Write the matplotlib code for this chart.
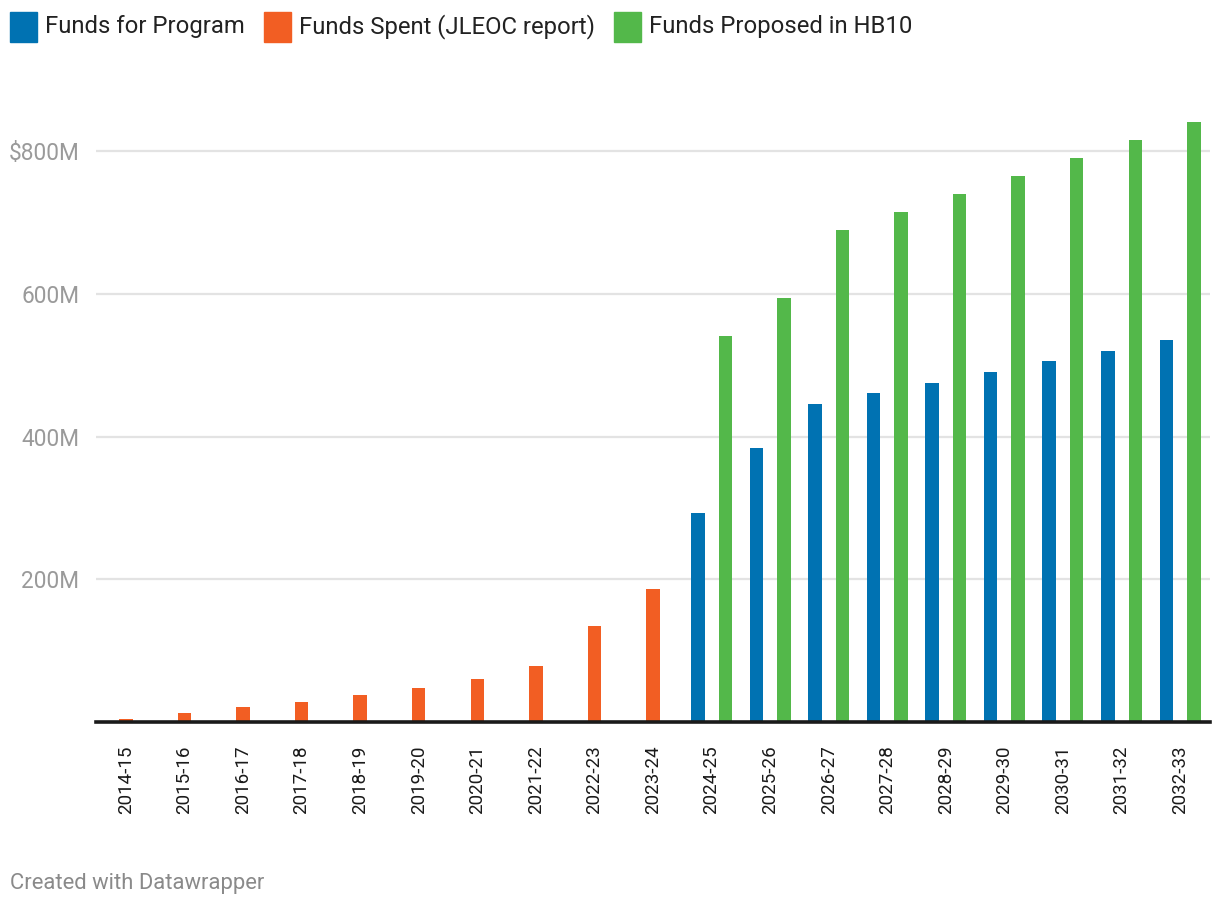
import numpy as np
import matplotlib
matplotlib.use("Agg")
import matplotlib.pyplot as plt
from matplotlib.patches import Rectangle

plt.rcParams['font.family'] = ['Roboto', 'DejaVu Sans']

# Data (millions of dollars)
categories = ['2014-15', '2015-16', '2016-17', '2017-18', '2018-19', '2019-20',
              '2020-21', '2021-22', '2022-23', '2023-24', '2024-25', '2025-26',
              '2026-27', '2027-28', '2028-29', '2029-30', '2030-31', '2031-32',
              '2032-33']
funds_spent = [3.8, 12.2, 20.7, 27.8, 37.6, 47.5, 60.2, 78.6, 135, 186,
               np.nan, np.nan, np.nan, np.nan, np.nan, np.nan, np.nan, np.nan, np.nan]
funds_program = [np.nan] * 10 + [293, 384, 446, 461, 475, 490, 506, 520, 535]
funds_proposed = [np.nan] * 10 + [541, 594, 689, 715, 740, 765, 790, 816, 841]

series_names = ['Funds for Program', 'Funds Spent (JLEOC report)', 'Funds Proposed in HB10']
colors = ['#0072b2', '#f25e23', '#53b84a']

fig = plt.figure(figsize=(12.2, 9.06), dpi=100)
W, H = 1220, 906
ax = fig.add_axes([96 / W, (H - 722) / H, (1210 - 96) / W, (722 - 100) / H])

x = np.arange(len(categories))
bw = 0.23
off = 0.235

spent = np.array(funds_spent, dtype=float)
prog = np.array(funds_program, dtype=float)
prop = np.array(funds_proposed, dtype=float)

m = ~np.isnan(spent)
ax.bar(x[m], spent[m], width=bw, color=colors[1], zorder=3)
m = ~np.isnan(prog)
ax.bar(x[m] - off, prog[m], width=bw, color=colors[0], zorder=3)
m = ~np.isnan(prop)
ax.bar(x[m] + off, prop[m], width=bw, color=colors[2], zorder=3)

ax.set_xlim(-0.51, len(categories) - 0.49)
ax.set_ylim(0, (722 - 100) / 142.7 * 200)

ax.set_yticks([200, 400, 600, 800])
ax.set_yticklabels(['200M', '400M', '600M', '$800M'])
ax.tick_params(axis='y', length=0, pad=12, labelsize=16.3, labelcolor='#9a9a9a')
ax.grid(axis='y', color='#e3e3e3', linewidth=1.6, zorder=0)

ax.set_xticks(x)
ax.set_xticklabels(categories, rotation=90, va='top', ha='center')
ax.tick_params(axis='x', length=0, pad=17, labelsize=13.5, labelcolor='#1a1a1a')

for s in ax.spines.values():
    s.set_visible(False)
ax.axhline(0, color='#1a1a1a', linewidth=2.6, zorder=4, clip_on=False)

# legend row
leg_x = [10, 264, 614]
for lx, name, c in zip(leg_x, series_names, colors):
    fig.patches.append(Rectangle((lx / W, (H - 42) / H), 27 / W, 30 / H,
                                 transform=fig.transFigure, color=c))
    fig.text((lx + 35) / W, (H - 27) / H, name, fontsize=17.2, color='#222222',
             va='center', ha='left')

fig.text(10 / W, (H - 883) / H, 'Created with Datawrapper', fontsize=15.8,
         color='#8a8a8a', va='center', ha='left')

fig.savefig('out.png', dpi=100, facecolor='white')
